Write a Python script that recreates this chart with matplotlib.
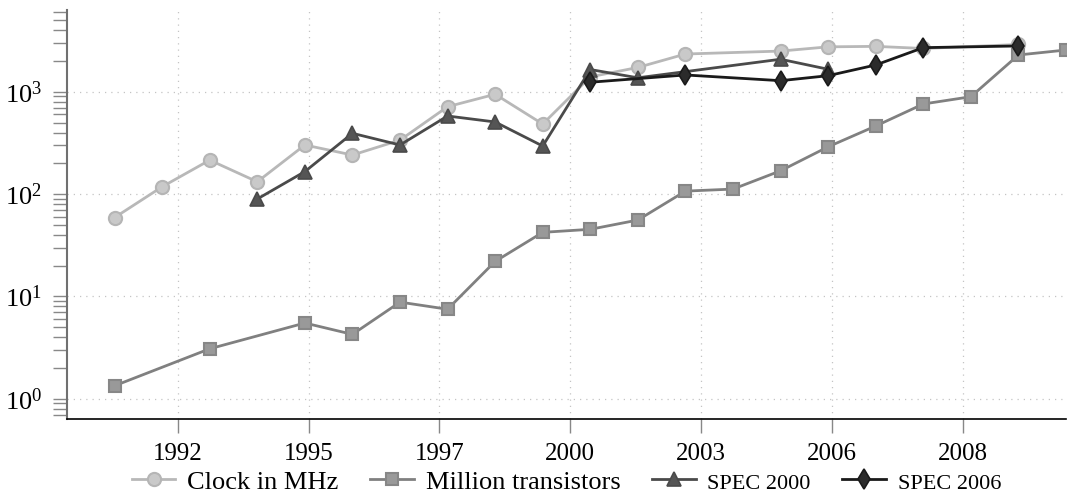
import matplotlib
matplotlib.use("Agg")
import matplotlib.pyplot as plt
import numpy as np

plt.rcParams['font.family'] = ['Liberation Serif', 'DejaVu Serif']
plt.rcParams['mathtext.fontset'] = 'stix'

# ---- data ----
clock_years = [1991, 1992, 1993, 1994, 1995, 1996, 1997, 1998, 1999, 2000,
               2001, 2002, 2003, 2005, 2006, 2007, 2008, 2010]
clock_mhz = [59, 118, 215, 132, 302, 241, 337, 715, 946, 484,
             1400, 1730, 2340, 2500, 2750, 2780, 2650, 2900]

trans_years = [1991, 1993, 1995, 1996, 1997, 1998, 1999, 2000, 2001, 2002,
               2003, 2004, 2005, 2006, 2007, 2008, 2009, 2010, 2011]
trans_million = [1.34, 3.08, 5.5, 4.26, 8.8, 7.5, 22, 42.3, 45.3, 55.8,
                 107, 112, 169, 290, 463, 760, 895, 2290, 2560]

spec2000_years = [1994, 1995, 1996, 1997, 1998, 1999, 2000, 2001, 2002, 2005, 2006]
spec2000 = [89.6, 166, 393, 302, 580, 507, 295, 1650, 1370, 2080, 1660]

spec2006_years = [2001, 2003, 2005, 2006, 2007, 2008, 2010]
spec2006 = [1240, 1460, 1284, 1437, 1828, 2700, 2805]

xtick_pos = [1992.33, 1995.08, 1997.83, 2000.58, 2003.33, 2006.08, 2008.83]
xtick_labels = ['1992', '1995', '1997', '2000', '2003', '2006', '2008']

labels = ['Clock in MHz', 'Million transistors', 'SPEC 2000', 'SPEC 2006']

# ---- figure ----
W, H = 1067, 496
fig = plt.figure(figsize=(W / 100, H / 100), dpi=100)
ax = fig.add_axes([67 / W, 1 - 419.3 / H, (1066 - 67) / W, (419.3 - 10) / H])

ax.plot(clock_years, clock_mhz, marker='o', ms=9.5, color='#b8b8b8',
        mfc='#c9c9c9', mec='#b5b5b5', mew=1.5, lw=2.0, label=labels[0], zorder=3)
ax.plot(trans_years, trans_million, marker='s', ms=8.5, color='#808080',
        mfc='#999999', mec='#878787', mew=1.5, lw=2.0, label=labels[1], zorder=3)
ax.plot(spec2000_years, spec2000, marker='^', ms=9.5, color='#4a4a4a',
        mfc='#555555', mec='#4a4a4a', mew=1.2, lw=2.0, label=labels[2], zorder=4)
ax.plot(spec2006_years, spec2006, marker='d', ms=10, color='#1a1a1a',
        mfc='#2b2b2b', mec='#1a1a1a', mew=1.2, lw=2.0, label=labels[3], zorder=5)

ax.set_yscale('log')
ax.set_xlim(1990.0, 2011.0)
ax.set_ylim(0.63, 6300)

ax.set_xticks(xtick_pos)
ax.set_xticklabels(xtick_labels)
ax.xaxis.set_minor_locator(matplotlib.ticker.NullLocator())

ax.tick_params(axis='both', which='both', direction='out', color='#888888',
               length=10, width=1.0)
ax.tick_params(axis='x', labelsize=18, pad=7)
ax.tick_params(axis='y', labelsize=19, pad=8)

for s in ['top', 'right']:
    ax.spines[s].set_visible(False)
ax.spines['left'].set_color('#707070')
ax.spines['left'].set_linewidth(1.5)
ax.spines['bottom'].set_color('black')
ax.spines['bottom'].set_linewidth(1.2)

ax.set_axisbelow(True)
ax.grid(True, which='major', linestyle=(0, (1, 4)), color='#c4c4c4', lw=0.9)

leg = ax.legend(loc='center', bbox_to_anchor=(0.5, -0.153), ncol=4,
                frameon=False, fontsize=19, handlelength=1.65,
                handletextpad=0.45, columnspacing=1.2, borderaxespad=0)
for t in leg.get_texts()[2:]:
    t.set_fontsize(16)

fig.savefig('out.png', dpi=100)
